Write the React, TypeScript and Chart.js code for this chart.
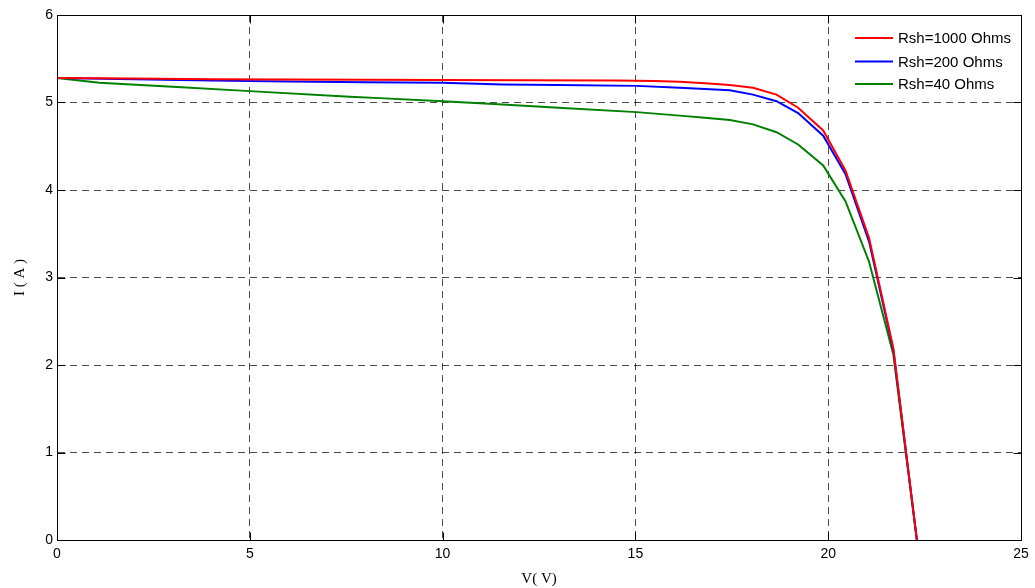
import React, { useEffect, useRef } from "react";
import { Chart, registerables } from "chart.js";

Chart.register(...registerables);

// I-V characteristics for three shunt resistances
const seriesLabels = ["Rsh=1000 Ohms", "Rsh=200 Ohms", "Rsh=40 Ohms"];
const seriesColors = ["#ff0000", "#0000ff", "#008000"];

const vRsh1000 = [0, 2, 4, 6, 8, 10, 12, 14.5, 15.5, 16.15, 16.8, 17.45, 18.05, 18.66, 19.22, 19.87, 20.45, 21.06, 21.69, 22.3];
const iRsh1000 = [5.28, 5.275, 5.265, 5.262, 5.26, 5.258, 5.255, 5.252, 5.245, 5.237, 5.22, 5.2, 5.168, 5.09, 4.94, 4.68, 4.22, 3.45, 2.19, 0];

const vRsh200 = [0, 2, 4, 6, 8, 10, 11.56, 13, 15.03, 16.15, 16.8, 17.45, 18.05, 18.66, 19.22, 19.87, 20.45, 21.06, 21.69, 22.3];
const iRsh200 = [5.28, 5.265, 5.25, 5.24, 5.232, 5.225, 5.206, 5.2, 5.19, 5.168, 5.155, 5.14, 5.09, 5.015, 4.88, 4.62, 4.18, 3.41, 2.17, 0];

const vRsh40 = [0, 1.1, 3, 5, 7.59, 8.37, 10, 11.56, 13, 15.03, 16.15, 16.8, 17.45, 18.05, 18.66, 19.22, 19.87, 20.45, 21.06, 21.69, 22.3];
const iRsh40 = [5.28, 5.225, 5.18, 5.13, 5.065, 5.05, 5.015, 4.977, 4.94, 4.89, 4.85, 4.825, 4.8, 4.75, 4.66, 4.52, 4.28, 3.87, 3.18, 2.12, 0];

const xTicks = [0, 5, 10, 15, 20, 25];
const yTicks = [0, 1, 2, 3, 4, 5, 6];

const toPoints = (v: number[], i: number[]) => v.map((x, k) => ({ x, y: i[k] }));

// Closed axes box with inward tick marks, plus an in-plot legend
const framePlugin = {
  id: "frameAndLegend",
  afterDatasetsDraw(chart: any) {
    const { ctx, chartArea, scales } = chart;
    const L = Math.round(chartArea.left) + 0.5;
    const T = Math.round(chartArea.top) + 0.5;
    const R = Math.round(chartArea.right) + 0.5;
    const B = Math.round(chartArea.bottom) + 0.5;
    ctx.save();
    ctx.strokeStyle = "#000";
    ctx.lineWidth = 1;
    ctx.setLineDash([]);
    ctx.strokeRect(L, T, R - L, B - T);

    const tickLen = 8;
    ctx.beginPath();
    xTicks.forEach((v) => {
      const x = Math.round(scales.x.getPixelForValue(v)) + 0.5;
      ctx.moveTo(x, B);
      ctx.lineTo(x, B - tickLen);
      ctx.moveTo(x, T);
      ctx.lineTo(x, T + tickLen);
    });
    yTicks.forEach((v) => {
      const y = Math.round(scales.y.getPixelForValue(v)) + 0.5;
      ctx.moveTo(L, y);
      ctx.lineTo(L + tickLen, y);
      ctx.moveTo(R, y);
      ctx.lineTo(R - tickLen, y);
    });
    ctx.stroke();

    const rowY = [38, 61.5, 84];
    ctx.font = "15px 'Liberation Sans', Arial, sans-serif";
    ctx.textBaseline = "middle";
    ctx.textAlign = "left";
    chart.data.datasets.forEach((ds: any, k: number) => {
      ctx.strokeStyle = ds.borderColor;
      ctx.lineWidth = 2;
      ctx.beginPath();
      ctx.moveTo(855, rowY[k]);
      ctx.lineTo(893, rowY[k]);
      ctx.stroke();
      ctx.fillStyle = "#000";
      ctx.fillText(ds.label, 898, rowY[k] + 1);
    });
    ctx.restore();
  },
};

export default function App() {
  const canvasRef = useRef<HTMLCanvasElement>(null);

  useEffect(() => {
    document.body.style.margin = "0";
    const canvas = canvasRef.current;
    if (!canvas) return;

    const datasets = [
      toPoints(vRsh1000, iRsh1000),
      toPoints(vRsh200, iRsh200),
      toPoints(vRsh40, iRsh40),
    ].map((data, k) => ({
      label: seriesLabels[k],
      data,
      borderColor: seriesColors[k],
      backgroundColor: seriesColors[k],
      borderWidth: 2,
      pointRadius: 0,
      tension: 0,
      fill: false,
    }));

    const tickFont = { family: "'Liberation Sans', Arial, sans-serif", size: 14 };
    const titleFont = { family: "'Liberation Serif', 'Times New Roman', serif", size: 15 };
    const gridColor = "rgba(0,0,0,0.7)";

    const chart = new Chart(canvas, {
      type: "line",
      data: { datasets },
      options: {
        animation: false,
        responsive: false,
        maintainAspectRatio: false,
        layout: { padding: { top: 15, right: 14, bottom: 0, left: 0 } },
        plugins: {
          legend: { display: false },
          tooltip: { enabled: false },
        },
        scales: {
          x: {
            type: "linear",
            min: 0,
            max: 25,
            afterBuildTicks: (scale: any) => {
              scale.ticks = xTicks.map((value) => ({ value }));
            },
            afterFit: (scale: any) => {
              scale.height = 48;
            },
            ticks: { color: "#000", font: tickFont, padding: 6, maxRotation: 0 },
            grid: { color: gridColor, lineWidth: 1, drawTicks: false },
            border: { display: true, color: "#000", width: 1, dash: [7, 5] },
            title: {
              display: true,
              text: "V( V)",
              color: "#000",
              font: titleFont,
              padding: { top: 0, bottom: 0 },
            },
          },
          y: {
            type: "linear",
            min: 0,
            max: 6,
            afterBuildTicks: (scale: any) => {
              scale.ticks = yTicks.map((value) => ({ value }));
            },
            afterFit: (scale: any) => {
              scale.width = 57;
            },
            ticks: { color: "#000", font: tickFont, padding: 4 },
            grid: { color: gridColor, lineWidth: 1, drawTicks: false },
            border: { display: true, color: "#000", width: 1, dash: [7, 5] },
            title: {
              display: true,
              text: "I ( A )",
              color: "#000",
              font: titleFont,
              padding: { top: 11, bottom: 0 },
            },
          },
        },
      },
      plugins: [framePlugin],
    } as any);

    return () => chart.destroy();
  }, []);

  return (
    <div style={{ width: 1035, height: 588, background: "#fff" }}>
      <canvas ref={canvasRef} width={1035} height={588} style={{ display: "block" }} />
    </div>
  );
}
